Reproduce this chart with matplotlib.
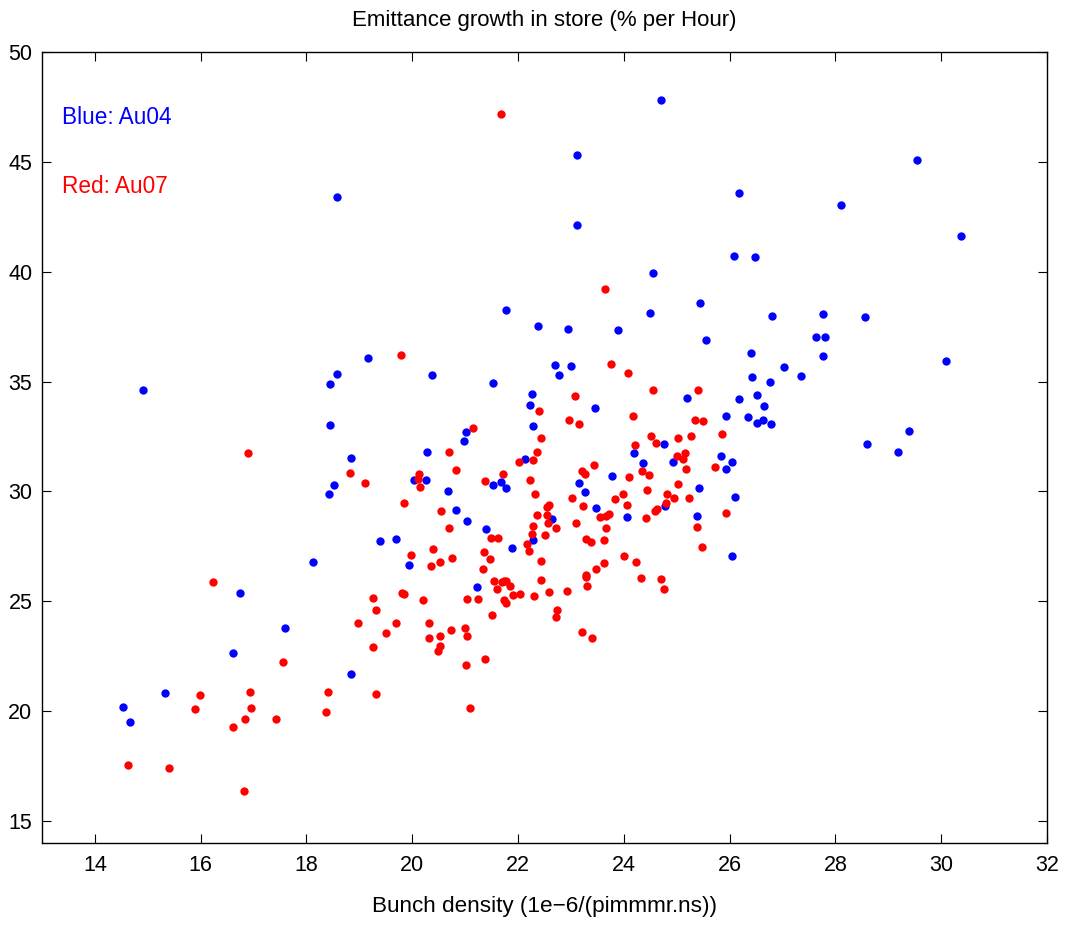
import matplotlib
matplotlib.use('Agg')
import matplotlib.pyplot as plt

plt.rcParams['font.family'] = ['Liberation Sans', 'DejaVu Sans']

# Au04 (blue) - bunch density vs emittance growth
au04_density = [24.70, 23.11, 23.12, 24.55, 21.78, 24.49, 25.44, 29.54, 26.18, 28.10,
                30.38, 26.08, 26.48, 26.81, 27.76, 28.55, 18.57, 22.37, 22.95, 23.89,
                25.55, 22.70, 23.00, 22.77, 25.19, 22.27, 22.22, 23.46, 22.29, 24.76,
                24.20, 22.13, 24.92, 24.37, 25.84, 25.94, 26.04, 21.67, 21.77, 23.77,
                23.16, 23.26, 25.42, 23.47, 24.78, 22.65, 24.06, 25.39, 22.29, 21.89,
                18.43, 20.67, 20.82, 21.04, 21.40, 19.39, 19.69, 18.12, 19.93, 21.23,
                18.84, 19.17, 18.57, 18.45, 20.38, 21.53, 18.44, 21.01, 20.98, 20.27,
                18.85, 20.03, 20.26, 18.52, 21.52, 14.90, 16.75, 17.59, 16.62, 15.33,
                14.54, 14.66, 27.64, 27.80, 27.76, 26.40, 30.09, 27.02, 27.35, 26.43,
                26.77, 26.51, 26.17, 26.64, 25.93, 26.34, 26.51, 26.63, 26.78, 29.39,
                28.59, 29.19, 26.10, 26.04]
au04_growth = [47.82, 45.31, 42.14, 39.93, 38.26, 38.13, 38.56, 45.10, 43.58, 43.04,
               41.62, 40.71, 40.67, 38.00, 38.06, 37.95, 43.41, 37.53, 37.39, 37.35,
               36.91, 35.74, 35.69, 35.28, 34.24, 34.42, 33.95, 33.80, 32.98, 32.16,
               31.75, 31.46, 31.34, 31.27, 31.63, 31.01, 31.35, 30.41, 30.14, 30.71,
               30.40, 29.97, 30.17, 29.26, 29.32, 28.73, 28.83, 28.89, 27.77, 27.41,
               29.87, 30.00, 29.14, 28.65, 28.29, 27.76, 27.82, 26.77, 26.65, 25.67,
               21.70, 36.06, 35.34, 34.89, 35.30, 34.93, 33.02, 32.70, 32.28, 31.78,
               31.53, 30.53, 30.52, 30.31, 30.31, 34.63, 25.38, 23.77, 22.64, 20.82,
               20.19, 19.50, 37.01, 37.04, 36.18, 36.30, 35.92, 35.68, 35.25, 35.19,
               34.97, 34.39, 34.21, 33.90, 33.45, 33.40, 33.10, 33.25, 33.05, 32.74,
               32.14, 31.78, 29.76, 27.07]

# Au07 (red)
au07_density = [21.68, 23.64, 23.76, 24.07, 24.56, 25.41, 23.07, 22.39, 22.97, 23.16,
                24.18, 25.35, 25.50, 22.44, 24.52, 25.03, 25.26, 25.85, 24.22, 24.60,
                22.36, 22.02, 22.28, 25.00, 25.11, 25.16, 23.43, 23.21, 23.27, 24.35,
                24.48, 25.18, 25.73, 21.71, 22.22, 24.10, 25.03, 22.32, 23.02, 23.99,
                24.43, 24.82, 24.95, 25.23, 23.84, 25.94, 22.58, 22.54, 23.22, 24.05,
                24.80, 24.62, 24.58, 22.36, 22.54, 22.56, 22.71, 23.10, 23.54, 23.67,
                23.71, 24.41, 25.39, 25.47, 22.29, 22.27, 22.17, 22.20, 22.51, 23.67,
                23.29, 23.38, 23.62, 21.49, 21.62, 22.44, 24.01, 24.23, 23.48, 23.62,
                23.28, 23.29, 23.30, 24.32, 24.70, 24.75, 22.44, 21.73, 21.84, 21.90,
                22.03, 21.74, 21.78, 22.30, 22.58, 22.93, 22.74, 22.71, 23.21, 23.40,
                19.85, 20.54, 20.70, 20.40, 19.97, 20.35, 20.52, 20.76, 21.35, 21.46,
                21.33, 21.55, 21.69, 21.77, 21.60, 19.25, 19.80, 19.84, 20.20, 21.04,
                21.25, 19.32, 18.97, 19.70, 20.31, 21.50, 19.51, 20.32, 20.52, 20.74,
                20.99, 21.03, 20.52, 20.48, 19.26, 21.01, 21.38, 18.41, 19.79, 21.14,
                20.70, 18.82, 19.11, 20.82, 20.12, 20.11, 20.14, 21.38, 16.89, 16.24,
                17.55, 15.98, 15.90, 16.94, 16.96, 16.84, 16.61, 17.43, 18.37, 14.63,
                15.41, 16.82, 19.31, 21.09]
au07_growth = [47.16, 39.23, 35.81, 35.40, 34.63, 34.63, 34.34, 33.66, 33.24, 33.08,
               33.43, 33.26, 33.20, 32.44, 32.54, 32.44, 32.51, 32.63, 32.10, 32.19,
               31.79, 31.34, 31.42, 31.60, 31.49, 31.73, 31.22, 30.93, 30.81, 30.93,
               30.75, 31.02, 31.11, 30.79, 30.53, 30.64, 30.35, 29.88, 29.71, 29.88,
               30.05, 29.90, 29.69, 29.71, 29.65, 29.00, 29.40, 29.29, 29.32, 29.37,
               29.46, 29.20, 29.09, 28.91, 28.91, 28.56, 28.32, 28.56, 28.83, 28.87,
               28.96, 28.80, 28.37, 27.47, 28.41, 28.05, 27.62, 27.27, 28.02, 28.32,
               27.85, 27.68, 27.79, 27.89, 27.89, 26.83, 27.06, 26.79, 26.45, 26.73,
               26.19, 26.09, 25.68, 26.06, 26.01, 25.57, 25.97, 25.94, 25.71, 25.27,
               25.35, 25.04, 24.94, 25.24, 25.41, 25.45, 24.60, 24.27, 23.60, 23.34,
               29.47, 29.12, 28.32, 27.38, 27.09, 26.60, 26.79, 26.96, 27.23, 26.92,
               26.45, 25.92, 25.89, 25.92, 25.54, 25.16, 25.38, 25.33, 25.07, 25.09,
               25.12, 24.60, 24.01, 24.01, 24.01, 24.37, 23.54, 23.31, 23.43, 23.68,
               23.80, 23.40, 22.95, 22.72, 22.92, 22.11, 22.37, 20.86, 36.22, 32.87,
               31.78, 30.85, 30.38, 30.97, 30.79, 30.56, 30.19, 30.47, 31.73, 25.89,
               22.23, 20.72, 20.08, 20.86, 20.16, 19.65, 19.26, 19.65, 19.96, 17.53,
               17.40, 16.38, 20.78, 20.13]

x_ticks = [14, 16, 18, 20, 22, 24, 26, 28, 30, 32]
y_ticks = [15, 20, 25, 30, 35, 40, 45, 50]

fig = plt.figure(figsize=(10.66, 9.46), dpi=100)
ax = fig.add_axes([0.0394, 0.109, 0.9428, 0.836])

ax.plot(au04_density, au04_growth, 'o', color=(0, 0, 1), ms=6, mec='none')
ax.plot(au07_density, au07_growth, 'o', color=(1, 0, 0), ms=6, mec='none')

ax.set_xlim(13, 32)
ax.set_ylim(14, 50)
ax.set_xticks(x_ticks)
ax.set_yticks(y_ticks)
ax.tick_params(direction='in', length=6.7, width=0.8, labelsize=15.5,
               top=True, right=True, pad=7)
ax.tick_params(axis='x', pad=9)
for s in ax.spines.values():
    s.set_linewidth(1.0)

ax.text(13.38, 47.04, 'Blue: Au04', color=(0, 0, 1), fontsize=16.3, va='center')
ax.text(13.38, 43.86, 'Red: Au07', color=(1, 0, 0), fontsize=16.3, va='center')

ax.set_title('Emittance growth in store (% per Hour)', fontsize=16, pad=19)
ax.set_xlabel('Bunch density (1e\u22126/(pimmmr.ns))', fontsize=16.2, labelpad=14)

fig.savefig('out.png', dpi=100)
